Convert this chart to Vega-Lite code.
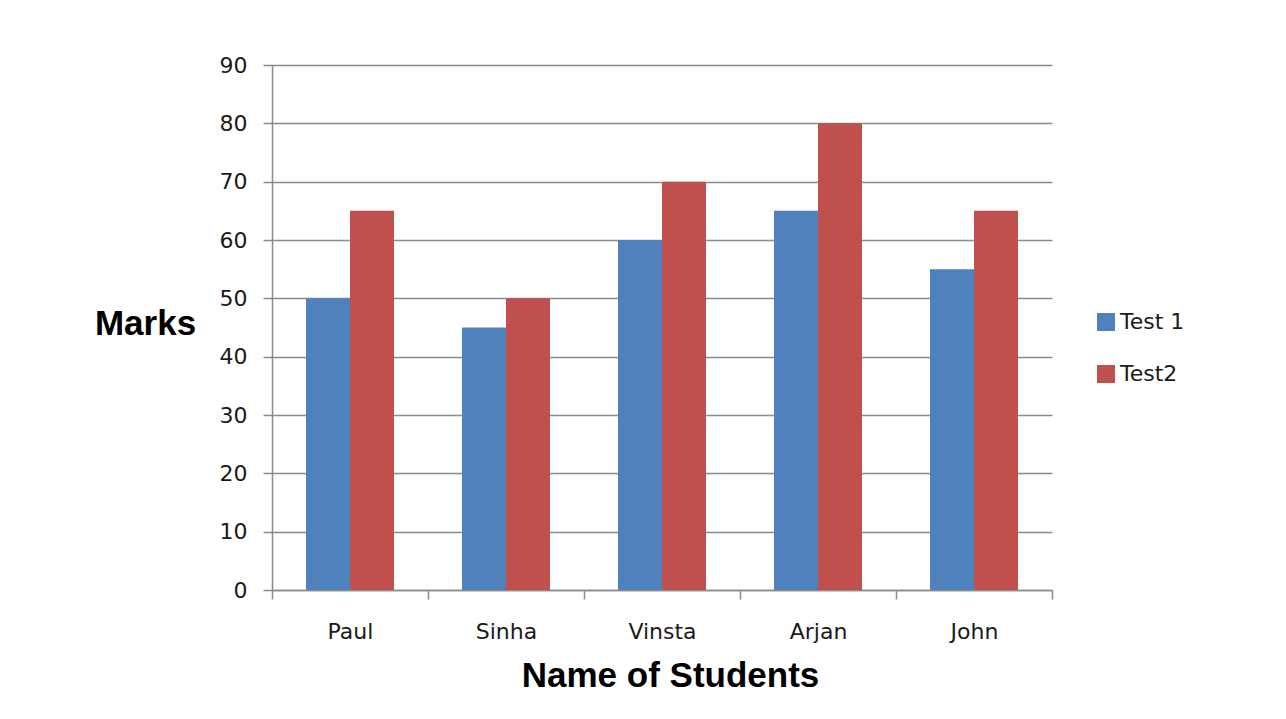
{
  "$schema": "https://vega.github.io/schema/vega-lite/v6.json",
  "autosize": "none",
  "padding": {"left": 272, "top": 65, "right": 234, "bottom": 129},
  "width": 780,
  "height": 525,
  "background": "white",
  "data": {
    "values": [
      {"student": "Paul", "test": "Test 1", "marks": 50},
      {"student": "Paul", "test": "Test2", "marks": 65},
      {"student": "Sinha", "test": "Test 1", "marks": 45},
      {"student": "Sinha", "test": "Test2", "marks": 50},
      {"student": "Vinsta", "test": "Test 1", "marks": 60},
      {"student": "Vinsta", "test": "Test2", "marks": 70},
      {"student": "Arjan", "test": "Test 1", "marks": 65},
      {"student": "Arjan", "test": "Test2", "marks": 80},
      {"student": "John", "test": "Test 1", "marks": 55},
      {"student": "John", "test": "Test2", "marks": 65}
    ]
  },
  "mark": {"type": "bar"},
  "encoding": {
    "x": {
      "field": "student",
      "type": "nominal",
      "sort": ["Paul", "Sinha", "Vinsta", "Arjan", "John"],
      "scale": {"paddingInner": 0, "paddingOuter": 0},
      "axis": {
        "title": "Name of Students",
        "titleFont": "Liberation Sans",
        "titleFontWeight": "bold",
        "titleFontSize": 35,
        "titleColor": "#000000",
        "titleAlign": "center",
        "titleBaseline": "alphabetic",
        "titleX": 398,
        "titleY": 96,
        "labelAngle": 0,
        "labelFont": "DejaVu Sans",
        "labelFontSize": 22,
        "labelColor": "#1a1a1a",
        "labelPadding": 22,
        "tickBand": "extent",
        "tickSize": 9,
        "tickWidth": 1.5,
        "tickColor": "#8a8a8a",
        "domainColor": "#8a8a8a",
        "domainWidth": 1.5,
        "grid": false
      }
    },
    "xOffset": {
      "field": "test",
      "type": "nominal",
      "sort": ["Test 1", "Test2"],
      "scale": {"paddingInner": 0, "paddingOuter": 0.773}
    },
    "y": {
      "field": "marks",
      "type": "quantitative",
      "scale": {"domain": [0, 90], "nice": false},
      "axis": {
        "title": "Marks",
        "titleFont": "Liberation Sans",
        "titleFontWeight": "bold",
        "titleFontSize": 35,
        "titleColor": "#000000",
        "titleAngle": 0,
        "titleAlign": "center",
        "titleBaseline": "alphabetic",
        "titleX": -127,
        "titleY": 269,
        "values": [0, 10, 20, 30, 40, 50, 60, 70, 80, 90],
        "labelFont": "DejaVu Sans",
        "labelFontSize": 22,
        "labelColor": "#1a1a1a",
        "labelPadding": 16,
        "tickSize": 9,
        "tickWidth": 1.5,
        "tickColor": "#8a8a8a",
        "domainColor": "#8a8a8a",
        "domainWidth": 1.5,
        "grid": true,
        "gridColor": "#8a8a8a",
        "gridWidth": 1.5
      }
    },
    "color": {
      "field": "test",
      "type": "nominal",
      "scale": {"domain": ["Test 1", "Test2"], "range": ["#4F81BD", "#C0504D"]},
      "legend": {
        "title": null,
        "orient": "none",
        "legendX": 823,
        "legendY": 246,
        "padding": 0,
        "symbolType": "square",
        "symbolSize": 324,
        "symbolStrokeWidth": 0,
        "labelFont": "DejaVu Sans",
        "labelFontSize": 22,
        "labelColor": "#1a1a1a",
        "labelOffset": 3,
        "rowPadding": 30
      }
    }
  },
  "config": {
    "view": {"stroke": null}
  }
}
